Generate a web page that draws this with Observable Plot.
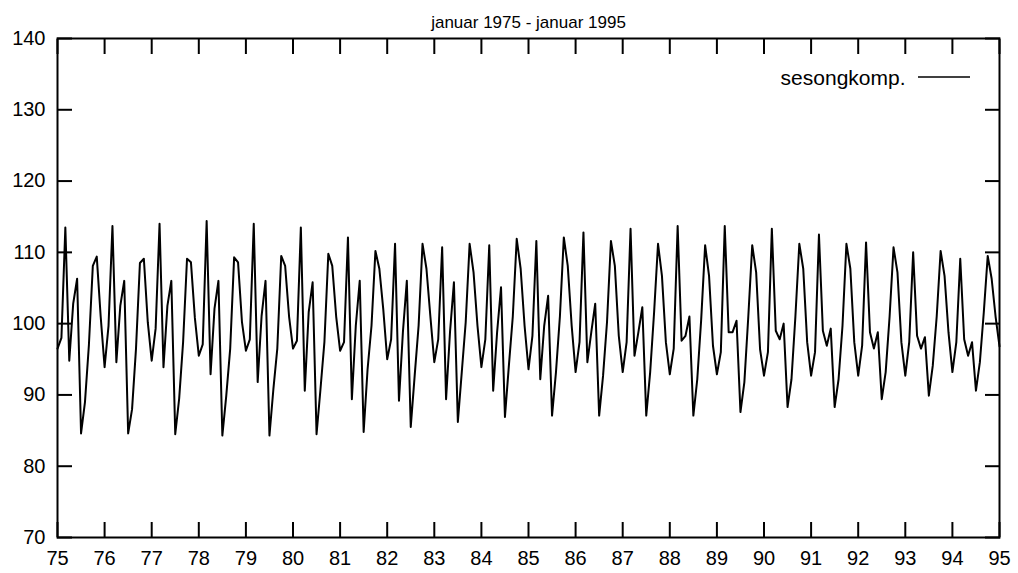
<!DOCTYPE html>
<html><head><meta charset="utf-8">
<script src="https://cdn.jsdelivr.net/npm/d3@7"></script>
<script src="https://cdn.jsdelivr.net/npm/@observablehq/plot@0.6"></script>
<style>body{margin:0;background:#fff}</style>
</head><body><div id="chart"></div><script>
const startYear = 75;
const v1975 = [96.5, 98, 113.5, 94.8, 102.8, 106.3, 84.6, 89, 97, 108.1, 109.4, 101];
const v1976 = [93.9, 99.7, 113.7, 94.6, 102.5, 106, 84.6, 88, 96.5, 108.5, 109.1, 100.2];
const v1977 = [94.8, 99.3, 114, 93.9, 102.5, 106, 84.5, 89.5, 97.4, 109.1, 108.6, 100.8];
const v1978 = [95.5, 97.1, 114.4, 92.9, 102.1, 106, 84.3, 89.9, 96.5, 109.3, 108.6, 100.2];
const v1979 = [96.2, 97.8, 114, 91.8, 101.1, 106, 84.3, 90.8, 96.5, 109.5, 108.1, 101];
const v1980 = [96.5, 97.6, 113.5, 90.6, 101.6, 105.8, 84.5, 90.8, 97.4, 109.8, 108.1, 101];
const v1981 = [96.2, 97.4, 112.1, 89.4, 99.7, 106, 84.8, 93.6, 99.7, 110.2, 107.7, 102];
const v1982 = [95, 97.8, 111.2, 89.2, 98.8, 106, 85.5, 92.7, 99.7, 111.2, 107.7, 101];
const v1983 = [94.6, 97.8, 110.7, 89.4, 98.8, 105.8, 86.2, 93.2, 100.2, 111.2, 107.2, 99.7];
const v1984 = [93.9, 97.8, 111, 90.6, 98.8, 105.1, 86.9, 94.1, 101, 111.9, 107.7, 99.7];
const v1985 = [93.6, 98.3, 111.6, 92.2, 99.7, 103.9, 87.1, 93.2, 101, 112.1, 108.1, 99.7];
const v1986 = [93.2, 97.4, 112.8, 94.6, 98.8, 102.8, 87.1, 92.7, 100.2, 111.6, 108.1, 98.3];
const v1987 = [93.2, 97.4, 113.3, 95.5, 98.8, 102.3, 87.1, 93.2, 101.6, 111.2, 106.7, 97.4];
const v1988 = [92.9, 96.5, 113.7, 97.6, 98.3, 101, 87.1, 92.2, 100.6, 111, 106.7, 96.9];
const v1989 = [92.9, 96, 113.7, 98.8, 98.8, 100.4, 87.6, 91.8, 101, 111, 107.2, 96.4];
const v1990 = [92.7, 96, 113.3, 99, 97.8, 100, 88.3, 92.2, 101, 111.2, 107.7, 97.4];
const v1991 = [92.7, 96, 112.5, 99, 96.9, 99.3, 88.3, 92.2, 99.7, 111.2, 107.7, 97.4];
const v1992 = [92.7, 96.9, 111.4, 98.8, 96.5, 98.8, 89.4, 93.2, 101, 110.7, 107.2, 97.4];
const v1993 = [92.7, 97.4, 110, 98.3, 96.5, 98.1, 89.9, 94.1, 101, 110.2, 106.7, 98.8];
const v1994 = [93.2, 97.4, 109.1, 97.8, 95.5, 97.4, 90.6, 94.6, 101.6, 109.5, 106.3, 101];
const v1995 = [96.8];
const xTicks = [75,76,77,78,79,80,81,82,83,84,85,86,87,88,89,90,91,92,93,94,95];
const yTicks = [70,80,90,100,110,120,130,140];
const title = "januar 1975 - januar 1995";
const seriesName = "sesongkomp.";

const values = [].concat(v1975,v1976,v1977,v1978,v1979,v1980,v1981,v1982,v1983,v1984,
  v1985,v1986,v1987,v1988,v1989,v1990,v1991,v1992,v1993,v1994,v1995);
const data = values.map((v, i) => ({t: startYear + i / 12, v}));

const font = "'Liberation Sans', Arial, Helvetica, sans-serif";
const blank = () => "";
const chart = Plot.plot({
  width: 1018, height: 573,
  marginLeft: 57, marginRight: 19, marginTop: 38, marginBottom: 36,
  style: {fontFamily: font, fontSize: "20px", background: "#fff", color: "#000"},
  x: {domain: [75, 95]},
  y: {domain: [70, 140]},
  marks: [
    Plot.line(data, {x: "t", y: "v", stroke: "#000", strokeWidth: 2}),
    Plot.frame({stroke: "#000", strokeWidth: 2}),
    Plot.axisX({anchor: "bottom", ticks: xTicks, tickSize: -15, strokeWidth: 2, tickFormat: blank, label: null}),
    Plot.axisX({anchor: "top", ticks: xTicks, tickSize: -15, strokeWidth: 2, tickFormat: blank, label: null}),
    Plot.axisY({anchor: "left", ticks: yTicks, tickSize: -15, strokeWidth: 2, tickFormat: blank, label: null}),
    Plot.axisY({anchor: "right", ticks: yTicks, tickSize: -15, strokeWidth: 2, tickFormat: blank, label: null}),
    Plot.axisX({anchor: "bottom", ticks: xTicks, tickSize: 0, tickPadding: 13, tickFormat: d => String(d), fontSize: 20, label: null}),
    Plot.axisY({anchor: "left", ticks: yTicks, tickSize: 0, tickPadding: 12, fontSize: 20, label: null}),
    Plot.text([title], {frameAnchor: "top", dy: -23, fontSize: 17}),
    Plot.text([seriesName], {frameAnchor: "top-right", dx: -94, dy: 32, textAnchor: "end", fontSize: 21})
  ]
});
document.getElementById("chart").appendChild(chart);
// legend sample line
d3.select(chart).append("line")
  .attr("x1", 918).attr("x2", 970).attr("y1", 77).attr("y2", 77)
  .attr("stroke", "#000").attr("stroke-width", 1.5);
</script></body></html>
